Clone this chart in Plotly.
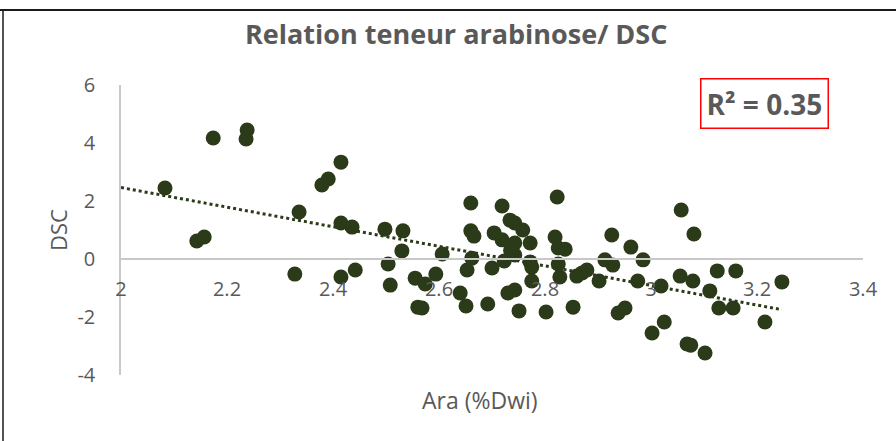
import numpy as np
import plotly.graph_objects as go

# ---- data ----
ara = [2.083, 2.143, 2.157, 2.174, 2.238, 2.236, 2.328, 2.336, 2.379, 2.391,
       2.415, 2.415, 2.436, 2.415, 2.442, 2.498, 2.532, 2.530, 2.504, 2.508,
       2.555, 2.574, 2.594, 2.560, 2.568, 2.606, 2.640, 2.651, 2.653, 2.662,
       2.660, 2.666, 2.660, 2.692, 2.700, 2.704, 2.719, 2.719, 2.723, 2.734,
       2.743, 2.730, 2.758, 2.743, 2.772, 2.743, 2.735, 2.772, 2.775, 2.775,
       2.743, 2.751, 2.802, 2.823, 2.819, 2.825, 2.838, 2.825, 2.828, 2.853,
       2.860, 2.870, 2.879, 2.902, 2.913, 2.928, 2.926, 2.962, 2.985, 2.975,
       2.938, 2.951, 3.002, 3.025, 3.019, 3.055, 3.057, 3.081, 3.079, 3.068,
       3.075, 3.102, 3.111, 3.125, 3.160, 3.128, 3.155, 3.215, 3.247]
dsc = [2.45, 0.62, 0.76, 4.17, 4.45, 4.14, -0.52, 1.62, 2.55, 2.76,
       3.34, 1.24, 1.10, -0.62, -0.38, 1.03, 0.97, 0.28, -0.17, -0.90,
       -0.66, -0.86, -0.52, -1.66, -1.69, 0.17, -1.17, -1.62, -0.38, 0.03,
       0.97, 0.79, 1.93, -1.55, -0.31, 0.90, 0.66, 1.83, -0.07, 1.34,
       1.24, -1.17, 1.00, 0.55, 0.55, 0.14, 0.30, -0.10, -0.28, -0.76,
       -1.07, -1.79, -1.83, 2.14, 0.76, 0.38, 0.34, -0.17, -0.62, -1.66,
       -0.59, -0.48, -0.38, -0.76, -0.03, -0.21, 0.83, 0.41, -0.03, -0.76,
       -1.86, -1.69, -2.55, -2.17, -0.93, -0.59, 1.69, 0.86, -0.76, -2.93,
       -2.97, -3.24, -1.10, -0.41, -0.41, -1.69, -1.69, -2.17, -0.79]

x_ticks = [2, 2.2, 2.4, 2.6, 2.8, 3, 3.2, 3.4]
x_tick_labels = ["2", "2.2", "2.4", "2.6", "2.8", "3", "3.2", "3.4"]
y_ticks = [-4, -2, 0, 2, 4, 6]
y_tick_labels = ["-4", "-2", "0", "2", "4", "6"]

title_text = "Relation teneur arabinose/ DSC"
x_title = "Ara (%Dwi)"
y_title = "DSC"
r2_text = "R² = 0.35"

# ---- layout geometry (pixels) ----
W, H = 896, 441
L, R, T, B = 121, 863, 85, 375
x_range = [2, 3.4]
y_range = [-4, 6]


def px(xp):
    return (xp - L) / (R - L)


def py(yp):
    return (B - yp) / (B - T)


GREY = "#595959"
DOT = "#2b3a18"
FONT = "Open Sans"

# linear trend computed from the data
slope, intercept = np.polyfit(ara, dsc, 1)
tx = np.array([x_range[0], max(ara)])
ty = slope * tx + intercept

fig = go.Figure()
fig.add_trace(go.Scatter(x=ara, y=dsc, mode="markers",
                         marker=dict(size=15, color=DOT, line=dict(width=0)),
                         showlegend=False, hoverinfo="skip", cliponaxis=False))
fig.add_trace(go.Scatter(x=tx, y=ty, mode="lines",
                         line=dict(color=DOT, width=3, dash="dot"),
                         showlegend=False, hoverinfo="skip"))

zero_pos = (0 - y_range[0]) / (y_range[1] - y_range[0])

fig.update_layout(
    width=W, height=H,
    margin=dict(l=L, r=W - R, t=T, b=H - B, autoexpand=False),
    paper_bgcolor="white", plot_bgcolor="white",
    font=dict(family=FONT, color=GREY),
    xaxis=dict(range=x_range, tickvals=x_ticks, ticktext=x_tick_labels,
               showgrid=False, zeroline=False, showline=True,
               linecolor="#c8c8c8", linewidth=1.5, ticks="",
               anchor="free", position=zero_pos, automargin=False,
               ticklabelstandoff=12,
               tickfont=dict(size=20, color=GREY, family=FONT)),
    yaxis=dict(range=y_range, tickvals=y_ticks, ticktext=y_tick_labels,
               showgrid=False, zeroline=False, showline=True,
               linecolor="#c8c8c8", linewidth=1.5, ticks="",
               ticklabelstandoff=20, automargin=False,
               tickfont=dict(size=20, color=GREY, family=FONT)),
    annotations=[
        dict(text=f"<b>{title_text}</b>", x=px(456), y=py(33), xref="paper", yref="paper",
             showarrow=False, font=dict(size=27, color=GREY, family=FONT),
             xanchor="center", yanchor="middle"),
        dict(text=x_title, x=px(480), y=py(400), xref="paper", yref="paper",
             showarrow=False, font=dict(size=23, color=GREY, family=FONT),
             xanchor="center", yanchor="middle"),
        dict(text=y_title, x=px(58), y=py(230), xref="paper", yref="paper",
             showarrow=False, textangle=-90, font=dict(size=22, color=GREY, family=FONT),
             xanchor="center", yanchor="middle"),
        dict(text=f"<b>{r2_text}</b>", x=px(764.5), y=py(103.5), xref="paper", yref="paper",
             showarrow=False, font=dict(size=28, color=GREY, family=FONT),
             xanchor="center", yanchor="middle",
             bordercolor="#ff0000", borderwidth=1.5, borderpad=5, bgcolor="white"),
    ],
    shapes=[
        dict(type="line", xref="paper", yref="paper",
             x0=px(0), x1=px(W), y0=py(10), y1=py(10),
             line=dict(color="#1a1a1a", width=2)),
        dict(type="line", xref="paper", yref="paper",
             x0=px(3), x1=px(3), y0=py(10), y1=py(H),
             line=dict(color="#1a1a1a", width=1.5)),
    ],
)

fig.write_html("out.html", config={"displayModeBar": False},
               post_script="document.body.style.margin='0';document.body.style.padding='0';")
